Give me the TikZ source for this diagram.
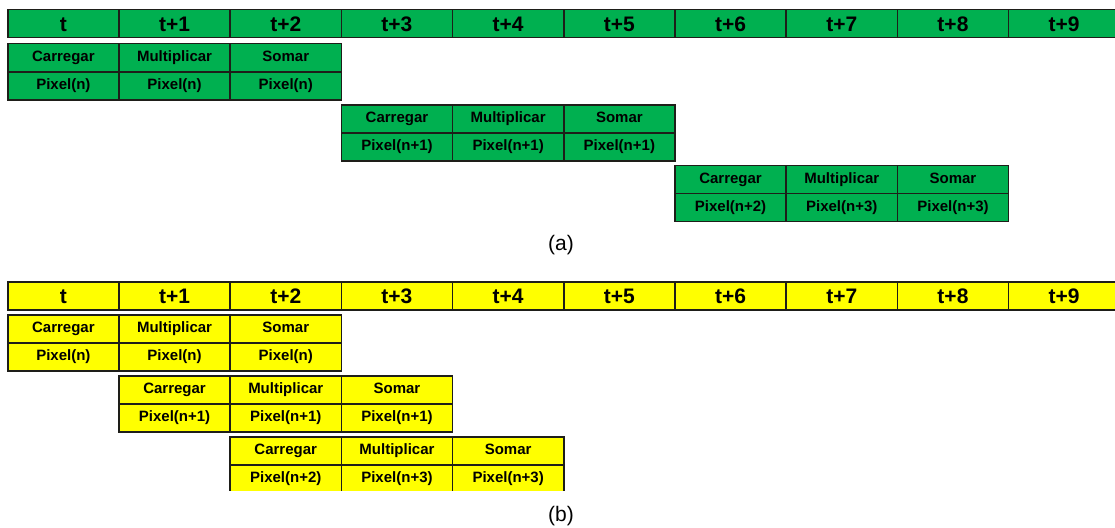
\documentclass[tikz,border=0pt]{standalone}
\usepackage{fontspec}
\setmainfont{Liberation Sans}
\definecolor{stagegreen}{RGB}{0,176,80}
\definecolor{stageyellow}{RGB}{255,255,0}
\definecolor{gridline}{RGB}{30,30,25}

% one pipeline block: three stages over two rows
% #1 name prefix, #2 first column, #3 top y, #4 fill, #5-#7 pixel labels
\newcommand\pipeblock[7]{%
  \foreach \k/\op in {0/Carregar,1/Multiplicar,2/Somar}{
    \node[cellbox, fill=#4] (#1op\k) at ({7+111.2*(#2+\k)},#3) {\op};
  }
  \node[cellbox, fill=#4] (#1px0) at ({7+111.2*#2},#3+28) {#5};
  \node[cellbox, fill=#4] (#1px1) at ({7+111.2*(#2+1)},#3+28) {#6};
  \node[cellbox, fill=#4] (#1px2) at ({7+111.2*(#2+2)},#3+28) {#7};
}

\begin{document}
\begin{tikzpicture}[x=1pt,y=-1pt,
  basecell/.style={draw=gridline, line width=1.5pt, minimum width=111.2pt,
    minimum height=28pt, inner sep=0pt, anchor=north west},
  hdr/.style={basecell, font=\fontsize{21}{24}\selectfont\bfseries,
    text height=15pt, text depth=0pt},
  cellbox/.style={basecell, font=\fontsize{15}{18}\selectfont\bfseries,
    text height=11pt, text depth=3pt},
  caption/.style={font=\fontsize{21}{24}\selectfont}
]
\useasboundingbox (0,0) rectangle (1115,527);

% (a) time axis
\foreach \i/\lab in {0/t,1/t+1,2/t+2,3/t+3,4/t+4,5/t+5,6/t+6,7/t+7,8/t+8,9/t+9}
  \node[hdr, fill=stagegreen] (ha\i) at ({7+111.2*\i},9) {\lab};

% (a) sequential execution
\pipeblock{aone}{0}{43}{stagegreen}{Pixel(n)}{Pixel(n)}{Pixel(n)}
\pipeblock{atwo}{3}{104}{stagegreen}{Pixel(n+1)}{Pixel(n+1)}{Pixel(n+1)}
\pipeblock{athree}{6}{164.5}{stagegreen}{Pixel(n+2)}{Pixel(n+3)}{Pixel(n+3)}

\node[caption] (capa) at (561,245) {(a)};

% (b) time axis
\foreach \i/\lab in {0/t,1/t+1,2/t+2,3/t+3,4/t+4,5/t+5,6/t+6,7/t+7,8/t+8,9/t+9}
  \node[hdr, fill=stageyellow] (hb\i) at ({7+111.2*\i},281) {\lab};

% (b) pipelined execution
\pipeblock{bone}{0}{314}{stageyellow}{Pixel(n)}{Pixel(n)}{Pixel(n)}
\pipeblock{btwo}{1}{375}{stageyellow}{Pixel(n+1)}{Pixel(n+1)}{Pixel(n+1)}
\begin{scope}
  \clip (0,0) rectangle (1115,490);
  \pipeblock{bthree}{2}{436}{stageyellow}{Pixel(n+2)}{Pixel(n+3)}{Pixel(n+3)}
\end{scope}

\node[caption] (capb) at (561,516) {(b)};
\end{tikzpicture}
\end{document}
